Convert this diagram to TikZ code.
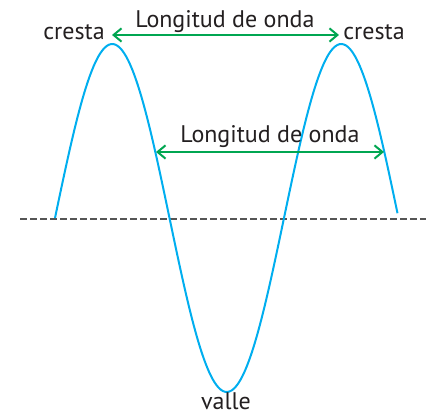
\documentclass[tikz,border=0pt]{standalone}
\usepackage{fontspec}
\setmainfont{PT Sans}
\usepackage{tikz}
\usetikzlibrary{arrows.meta}
\definecolor{wavecyan}{RGB}{0,174,239}
\definecolor{spangreen}{RGB}{0,166,81}
\definecolor{inkgray}{RGB}{35,31,32}
\definecolor{axisgray}{RGB}{85,85,85}

\begin{document}
\begin{tikzpicture}[x=0.75pt, y=-0.75pt, every node/.style={font=\fontsize{18}{21}\selectfont, text=inkgray, inner sep=0pt}, >={Straight Barb[length=6pt,width=10pt]}]
\tikzstyle{lbl}=[anchor=base]
\tikzstyle{span}=[<->, draw=spangreen, line width=1.5pt]
\useasboundingbox (0,0) rectangle (426,417);
% baseline and wave
\draw[axisgray, line width=0.8pt, dash pattern=on 4.9pt off 2.6pt] (20,219) -- (426,219);
\draw[wavecyan, line width=1.5pt] plot[domain=55:397.5, samples=160, smooth] (\x, {218-174*sin((\x-55)/229*360)});
\coordinate (crestA) at (112,35);
\coordinate (crestB) at (339,35);
\coordinate (sideA) at (156,152);
\coordinate (sideB) at (384,152);
\draw[span] (crestA) -- (crestB);
\draw[span] (sideA) -- (sideB);
\node[lbl] (crestAlbl) at (74,40) {cresta};
\node[lbl] (crestBlbl) at (374,40) {cresta};
\node[lbl] (lambdaTop) at (225,28) {Longitud de onda};
\node[lbl] (lambdaMid) at (270,143) {Longitud de onda};
\node[lbl] (trough) at (226,410) {valle};
\end{tikzpicture}
\end{document}
